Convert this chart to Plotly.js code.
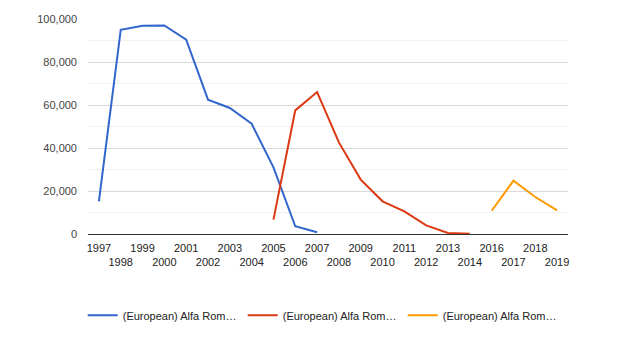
<!DOCTYPE html>
<html>
<head>
<meta charset="utf-8">
<script src="https://cdn.plot.ly/plotly-3.0.1.min.js"></script>
<style>html,body{margin:0;padding:0;background:#fff;}#chart{width:633px;height:363px;}</style>
</head>
<body>
<div id="chart"></div>
<script>
var categories = ["1997","1998","1999","2000","2001","2002","2003","2004","2005","2006","2007","2008","2009","2010","2011","2012","2013","2014","2016","2017","2018","2019"];
var seriesNames = ["(European) Alfa Rom…","(European) Alfa Rom…","(European) Alfa Rom…"];
var blueYears = ["1997","1998","1999","2000","2001","2002","2003","2004","2005","2006","2007"];
var blueValues = [15200, 95000, 96900, 97000, 90400, 62500, 58600, 51300, 31000, 3600, 800];
var redYears = ["2005","2006","2007","2008","2009","2010","2011","2012","2013","2014"];
var redValues = [6700, 57500, 66000, 42600, 25300, 15200, 10500, 4000, 500, 100];
var orangeYears = ["2016","2017","2018","2019"];
var orangeValues = [10800, 24800, 17200, 11000];
var yTickVals = [0, 20000, 40000, 60000, 80000, 100000];
var yTickText = ["0", "20,000", "40,000", "60,000", "80,000", "100,000"];

var colors = ["#3366cc", "#dc3912", "#ff9900"];
var tickText = categories.map(function (c, i) { return i % 2 === 0 ? c : " <br>" + c; });

var traces = [
  {x: blueYears, y: blueValues, name: seriesNames[0]},
  {x: redYears, y: redValues, name: seriesNames[1]},
  {x: orangeYears, y: orangeValues, name: seriesNames[2]}
].map(function (t, i) {
  t.type = "scatter"; t.mode = "lines";
  t.line = {color: colors[i], width: 2};
  t.hoverinfo = "skip";
  return t;
});

var layout = {
  width: 633, height: 363,
  margin: {l: 88, r: 65, t: 19, b: 129},
  paper_bgcolor: "#fff", plot_bgcolor: "#fff",
  font: {family: "Arial, 'Liberation Sans', sans-serif", size: 11, color: "#222"},
  showlegend: true,
  legend: {orientation: "h", x: -0.011, xanchor: "left", y: -0.378, yanchor: "middle",
           font: {size: 11, color: "#222"}, entrywidth: 115, entrywidthmode: "pixels",
           bgcolor: "rgba(0,0,0,0)"},
  xaxis: {type: "category", categoryorder: "array", categoryarray: categories,
          range: [-0.5, categories.length - 0.5], showgrid: false, zeroline: false,
          showline: false, ticks: "", tickmode: "array", tickvals: categories, ticktext: tickText,
          tickangle: 0, ticklabelstandoff: 6, tickfont: {size: 11, color: "#222"}, fixedrange: true},
  yaxis: {range: [0, 100000], tickmode: "array", tickvals: yTickVals, ticktext: yTickText,
          showgrid: true, gridcolor: "#d9d9d9", gridwidth: 1,
          minor: {dtick: 10000, tick0: 0, showgrid: true, gridcolor: "#f2f2f2", gridwidth: 1, ticks: ""},
          zeroline: true, zerolinecolor: "#333", zerolinewidth: 1,
          showline: false, ticks: "", ticklabelstandoff: 10,
          tickfont: {size: 11, color: "#444"}, fixedrange: true}
};

Plotly.newPlot("chart", traces, layout, {displayModeBar: false, staticPlot: true});
</script>
</body>
</html>
